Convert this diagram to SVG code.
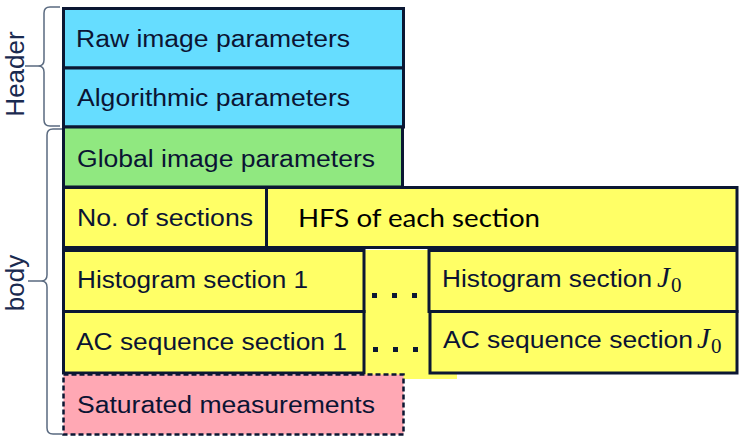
<svg xmlns="http://www.w3.org/2000/svg" width="748" height="445" viewBox="0 0 748 445">
<style>
.box{stroke:#0b1733;stroke-width:3}
.blue{fill:#66ddff}
.green{fill:#90e880}
.yellow{fill:#ffff66}
.pink{fill:#ffa8b4;stroke:#0b1733;stroke-width:2.5;stroke-dasharray:5,3}
.t{font-family:"Liberation Sans",Arial,sans-serif;font-size:23px;fill:#0b1433}
.h{font-family:Lato,"Open Sans",sans-serif;font-size:25px;fill:#000}
.j{font-family:"Liberation Serif","Times New Roman",serif;font-style:italic;font-size:29px;fill:#0b1433}
.s{font-family:"Liberation Serif","Times New Roman",serif;font-size:21px;fill:#0b1433}
.lab{font-family:"Liberation Sans",Arial,sans-serif;font-size:26px;fill:#1a2a50}
.brace{fill:none;stroke:#5a6a80;stroke-width:1.5}
.dot{fill:#0b1733}
</style>
<g id="connectors">
<path class="brace" d="M60,7 H50 Q44,7 44,13 V60 Q44,66 38,66 H25 M38,66 Q44,66 44,72 V120 Q44,126 50,126 H60"/>
<path class="brace" d="M62,129 H53 Q47,129 47,135 V275 Q47,281 41,281 H28 M41,281 Q47,281 47,287 V428 Q47,434 53,434 H62"/>
</g>
<g id="label-header"><text class="lab" transform="translate(24,74) rotate(-90)" text-anchor="middle">Header</text></g>
<g id="label-body"><text class="lab" transform="translate(24,283) rotate(-90)" text-anchor="middle">body</text></g>
<g id="raw"><rect class="box blue" x="63.5" y="8.5" width="340" height="59.5"/><text class="t" x="76" y="47" textLength="274" lengthAdjust="spacingAndGlyphs">Raw image parameters</text></g>
<g id="algo"><rect class="box blue" x="63.5" y="68" width="340" height="59"/><text class="t" x="77" y="106" textLength="273" lengthAdjust="spacingAndGlyphs">Algorithmic parameters</text></g>
<g id="global"><rect class="box green" x="63.5" y="127" width="339" height="60"/><text class="t" x="77" y="167" textLength="298" lengthAdjust="spacingAndGlyphs">Global image parameters</text></g>
<g id="nsec"><rect class="box yellow" x="63.5" y="187.5" width="203" height="60"/><text class="t" x="77" y="226" textLength="176" lengthAdjust="spacingAndGlyphs">No. of sections</text></g>
<g id="hfs"><rect class="box yellow" x="266.5" y="187.5" width="470.5" height="60"/><text class="h" x="298" y="227" textLength="242" lengthAdjust="spacingAndGlyphs">HFS of each section</text></g>
<g id="dots">
<rect class="yellow" x="363" y="250" width="94" height="129"/>
<rect class="dot" x="372" y="293" width="5" height="5"/><rect class="dot" x="392" y="293" width="5" height="5"/><rect class="dot" x="412" y="293" width="5" height="5"/>
<rect class="dot" x="373" y="347" width="5" height="5"/><rect class="dot" x="393" y="347" width="5" height="5"/><rect class="dot" x="413" y="347" width="5" height="5"/>
</g>
<g id="hist1"><rect class="box yellow" x="63.5" y="250.5" width="300.5" height="61"/><text class="t" x="77" y="288" textLength="231" lengthAdjust="spacingAndGlyphs">Histogram section 1</text></g>
<g id="ac1"><rect class="box yellow" x="63.5" y="311.5" width="300.5" height="61.5"/><text class="t" x="76" y="350" textLength="271" lengthAdjust="spacingAndGlyphs">AC sequence section 1</text></g>
<g id="histJ"><rect class="box yellow" x="429" y="250.5" width="308" height="61"/><text class="t" x="442" y="287" textLength="210" lengthAdjust="spacingAndGlyphs">Histogram section</text><text class="j" x="657" y="287">J</text><text class="s" x="671" y="292">0</text></g>
<g id="acJ"><rect class="box yellow" x="430" y="311.5" width="307" height="61.5"/><text class="t" x="443" y="348" textLength="250" lengthAdjust="spacingAndGlyphs">AC sequence section</text><text class="j" x="697" y="348">J</text><text class="s" x="711" y="353">0</text></g>
<g id="sat"><rect class="pink" x="63.5" y="374.5" width="340" height="60"/><text class="t" x="77" y="413" textLength="298" lengthAdjust="spacingAndGlyphs">Saturated measurements</text></g>
</svg>
